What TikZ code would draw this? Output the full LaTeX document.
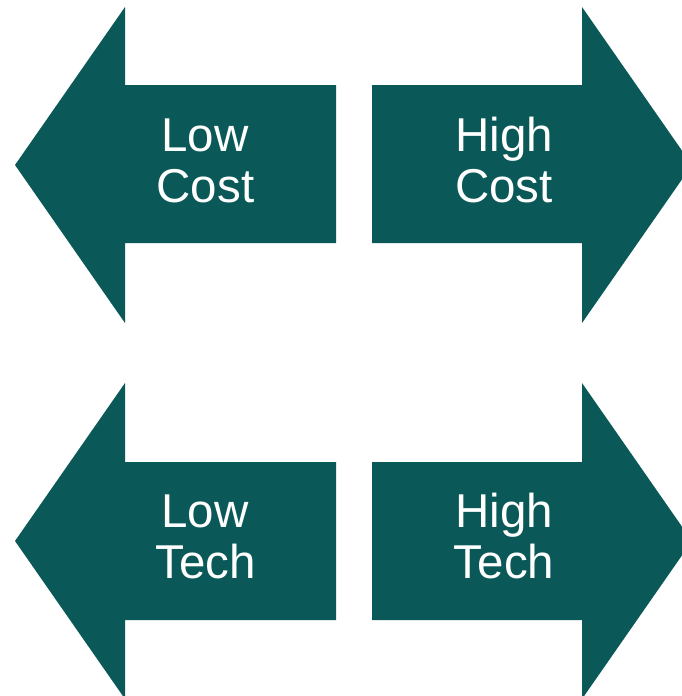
\documentclass[tikz,border=0pt]{standalone}
\usepackage{fontspec}
\setmainfont{Liberation Sans}
\definecolor{teal}{RGB}{10,89,88}
\begin{document}
\begin{tikzpicture}[x=1pt,y=-1pt,
  arrowfill/.style={fill=teal},
  lbl/.style={text=white,inner sep=0pt,anchor=base,font=\fontsize{47.5}{51}\selectfont}]
\useasboundingbox (0,0) rectangle (682,696);
\clip (0,0) rectangle (682,696);
% top-left arrow
\fill[arrowfill] (15,165) -- (125,7) -- (125,85) -- (336,85) -- (336,243) -- (125,243) -- (125,323) -- cycle;
% top-right arrow
\fill[arrowfill] (692,165) -- (582,7) -- (582,85) -- (372,85) -- (372,243) -- (582,243) -- (582,323) -- cycle;
% bottom-left arrow
\fill[arrowfill] (15,541) -- (125,383) -- (125,462) -- (336,462) -- (336,620) -- (125,620) -- (125,699) -- cycle;
% bottom-right arrow
\fill[arrowfill] (692,541) -- (582,383) -- (582,462) -- (372,462) -- (372,620) -- (582,620) -- (582,699) -- cycle;
% labels
\node[lbl] (lc1) at (205,151.5) {Low};
\node[lbl] (lc2) at (205.5,202.5) {Cost};
\node[lbl] (hc1) at (504,151.5) {High};
\node[lbl] (hc2) at (504,202.5) {Cost};
\node[lbl] (lt1) at (205,527.5) {Low};
\node[lbl] (lt2) at (205.5,578.5) {Tech};
\node[lbl] (ht1) at (504,527.5) {High};
\node[lbl] (ht2) at (504,578.5) {Tech};
\end{tikzpicture}
\end{document}
